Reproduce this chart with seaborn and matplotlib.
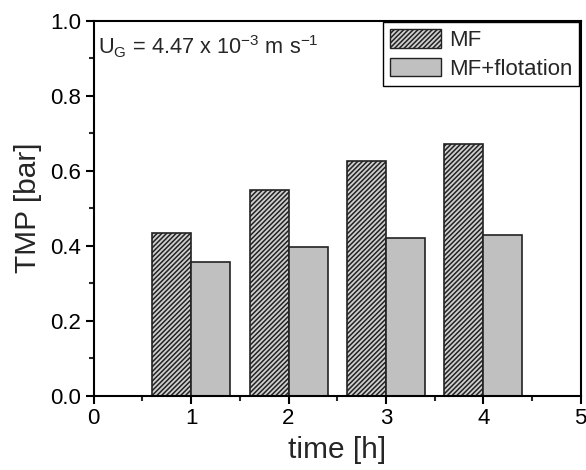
import matplotlib
matplotlib.use("Agg")
import matplotlib.pyplot as plt
import seaborn as sns
import pandas as pd
from matplotlib.patches import Patch
from matplotlib.ticker import MultipleLocator, FormatStrFormatter

times = [1, 2, 3, 4]
mf = [0.435, 0.548, 0.627, 0.672]
mf_flot = [0.357, 0.397, 0.421, 0.429]
series_names = ["MF", "MF+flotation"]

df = pd.DataFrame({
    "time": times * 2,
    "TMP": mf + mf_flot,
    "series": [series_names[0]] * 4 + [series_names[1]] * 4,
})

sns.set_style("ticks")
plt.rcParams["font.family"] = ["Liberation Sans", "DejaVu Sans"]
plt.rcParams["mathtext.fontset"] = "custom"
plt.rcParams["mathtext.rm"] = "Liberation Sans"
plt.rcParams["mathtext.it"] = "Liberation Sans:italic"
plt.rcParams["hatch.linewidth"] = 1.1
plt.rcParams["hatch.color"] = "#2a2a2a"

fig = plt.figure(figsize=(5.86, 4.70), dpi=100)
ax = fig.add_axes([0.16, 0.158, 0.831, 0.798])

sns.barplot(data=df, x="time", y="TMP", hue="series", native_scale=True,
            width=0.8, dodge=True, palette=["#c8c8c8", "#c0c0c0"],
            edgecolor="#222222", linewidth=1.2, saturation=1, ax=ax,
            legend=False, errorbar=None)

n = len(times)
for i, p in enumerate(ax.patches):
    if i < n:
        p.set_hatch("///////")
        p.set_facecolor("#cfcfcf")

ax.set_xlim(0, 5)
ax.set_ylim(0, 1.0)
ax.xaxis.set_major_locator(MultipleLocator(1))
ax.xaxis.set_minor_locator(MultipleLocator(0.5))
ax.yaxis.set_major_locator(MultipleLocator(0.2))
ax.yaxis.set_minor_locator(MultipleLocator(0.1))
ax.yaxis.set_major_formatter(FormatStrFormatter("%.1f"))
ax.xaxis.set_major_formatter(FormatStrFormatter("%d"))

for s in ax.spines.values():
    s.set_linewidth(1.5)
    s.set_color("black")
ax.tick_params(which="major", direction="out", length=6, width=1.5,
               labelsize=16, colors="black", top=False, right=False, pad=3)
ax.tick_params(which="minor", direction="out", length=3.5, width=1.5,
               top=False, right=False)

ax.set_xlabel("time [h]", fontsize=21.5, labelpad=5)
ax.set_ylabel("TMP [bar]", fontsize=21.5, labelpad=6)

ax.text(0.008, 0.965, r"U$_\mathrm{G}$ = 4.47 x 10$^{\mathrm{-3}}$ m s$^{\mathrm{-1}}$",
        transform=ax.transAxes, fontsize=15.7, va="top", ha="left")

handles = [
    Patch(facecolor="#cfcfcf", edgecolor="#222222", hatch="///////", linewidth=1.0, label=series_names[0]),
    Patch(facecolor="#c0c0c0", edgecolor="#222222", linewidth=1.0, label=series_names[1]),
]
leg = ax.legend(handles=handles, loc="upper right", fontsize=16, frameon=True,
                fancybox=False, edgecolor="black", framealpha=1,
                handlelength=2.3, handleheight=0.9, borderpad=0.3,
                labelspacing=0.3, handletextpad=0.36, borderaxespad=0.08)
leg.get_frame().set_linewidth(1.0)

fig.savefig("out.png", dpi=100)
